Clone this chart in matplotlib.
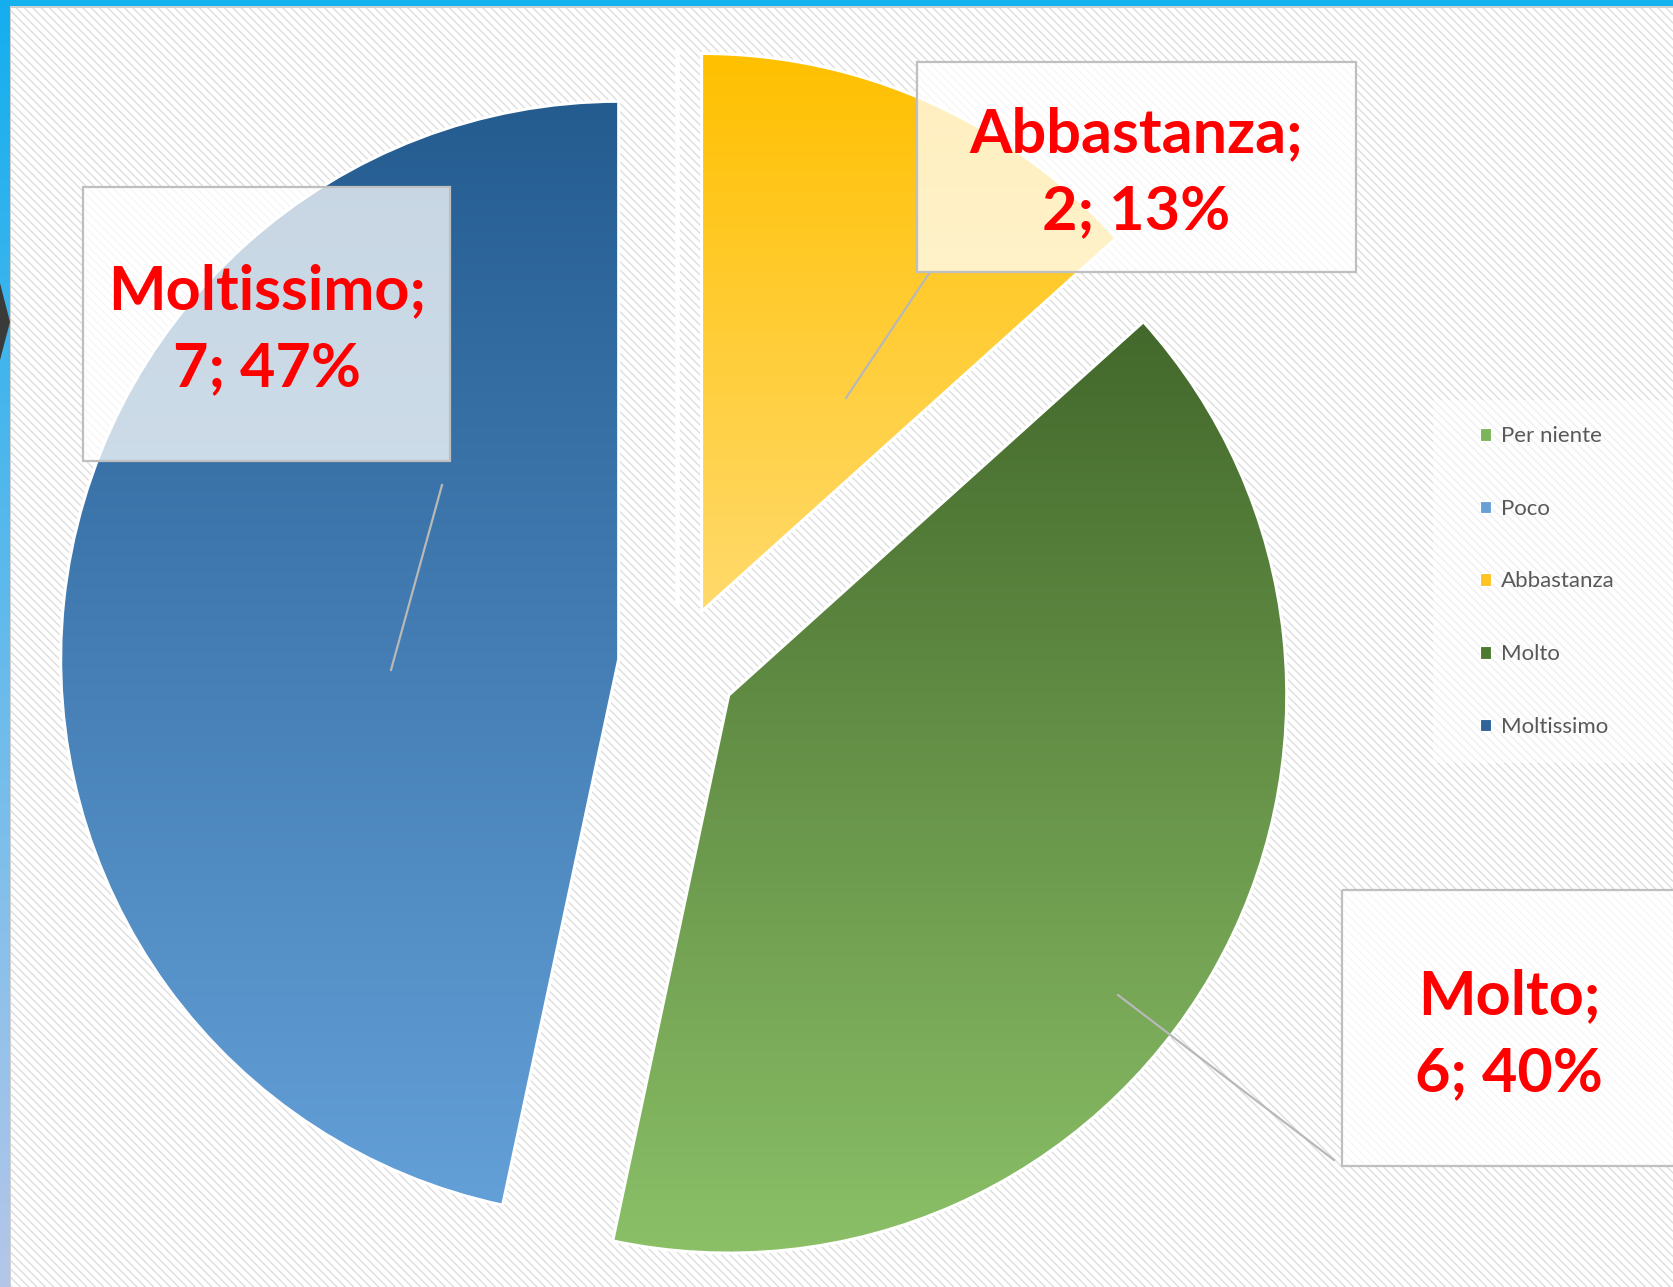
import numpy as np
import matplotlib
matplotlib.use("Agg")
import matplotlib.pyplot as plt
from matplotlib.patches import Rectangle, Polygon, Patch
from matplotlib.transforms import Affine2D
from matplotlib.colors import to_rgb

# ---------------- data ----------------
categories = ["Per niente", "Poco", "Abbastanza", "Molto", "Moltissimo"]
values = [0, 0, 2, 6, 7]
legend_colors = ["#7DB65A", "#6A9FD6", "#FFC423", "#4C7A30", "#2E6499"]
grad_top = ["#70AD47", "#5B9BD5", "#FFC000", "#43682B", "#245C90"]
grad_bottom = ["#8CC168", "#6FA8DC", "#FFDA6C", "#8CC168", "#64A0D8"]
explode_frac = 0.106

W, H = 1673, 1287
plt.rcParams["hatch.linewidth"] = 1.0
plt.rcParams["font.family"] = ["Lato", "DejaVu Sans"]

fig = plt.figure(figsize=(W / 100, H / 100), dpi=100)
fig.patch.set_facecolor("white")

# pixel (top-left origin) -> figure transform
PX = Affine2D().scale(1 / W, -1 / H).translate(0, 1) + fig.transFigure

# background hatch
fig.patches.append(Rectangle((11, 7), W - 11, H - 7, transform=PX, facecolor="white",
                             edgecolor="#DEDEDE", hatch="\\\\\\\\", linewidth=0.0, zorder=0))
# borders
fig.patches.append(Rectangle((0, 0), W, 6, transform=PX, facecolor="#12B2EE", edgecolor="none", zorder=1))
n = 200
for i in range(n):
    t = i / (n - 1)
    c = (1 - t) * np.array(to_rgb("#14AEEE")) + t * np.array(to_rgb("#B4C6E8"))
    fig.patches.append(Rectangle((0, i * H / n), 10, H / n + 1, transform=PX, facecolor=c,
                                 edgecolor="none", zorder=1))
fig.patches.append(Rectangle((10, 6), 1.5, H, transform=PX, facecolor="#D0D0D0", edgecolor="none", zorder=1))
fig.patches.append(Rectangle((10, 6), W, 1.5, transform=PX, facecolor="#D0D0D0", edgecolor="none", zorder=1))
fig.patches.append(Polygon([(0, 283), (10, 322), (0, 360)], closed=True, transform=PX,
                           facecolor="#3A3A3A", edgecolor="none", zorder=2))

# pie axes: radius 1 maps to R px, centre at (cx, cy) px
R = 558.0
cx, cy = 677.5, 665.5
ax = fig.add_axes([0, 0, 1, 1])
ax.set_zorder(3)
ax.patch.set_alpha(0)
wedges, _ = ax.pie(values, explode=[explode_frac] * len(values), startangle=90,
                   counterclock=False, radius=1.0,
                   wedgeprops=dict(edgecolor="white", linewidth=2.2))
xlim = (-cx / R, (W - cx) / R)
ylim = (-(H - cy) / R, cy / R)

for w, ctop, cbot, v in zip(wedges, grad_top, grad_bottom, values):
    w.set_facecolor("none")
    w.set_zorder(3)
    if v == 0:
        w.set_linewidth(3.0)
        continue
    verts = w.get_path().vertices
    x0, x1 = verts[:, 0].min(), verts[:, 0].max()
    y0, y1 = verts[:, 1].min(), verts[:, 1].max()
    t = np.linspace(0, 1, 256)[:, None]
    img = (1 - t) * np.array(to_rgb(ctop)) + t * np.array(to_rgb(cbot))
    im = ax.imshow(img[:, None, :], extent=[x0, x1, y0, y1], origin="upper",
                   aspect="auto", zorder=2, interpolation="bilinear")
    im.set_clip_path(w)

ax.set_xlim(*xlim)
ax.set_ylim(*ylim)
ax.set_aspect("auto")
ax.axis("off")

# data labels
total = sum(values)
label_boxes = {
    "Moltissimo": dict(box=(83, 187, 367, 274), text=(267, 330), leader=((442, 485), (391, 670))),
    "Abbastanza": dict(box=(917, 62, 439, 210), text=(1136, 173), leader=((930, 272), (846, 398))),
    "Molto": dict(box=(1342, 890, 360, 276), text=(1509, 1035), leader=((1118, 995), (1334, 1160))),
}
for cat, v in zip(categories, values):
    if cat not in label_boxes:
        continue
    d = label_boxes[cat]
    (p0, p1) = d["leader"]
    fig.lines.append(plt.Line2D([p0[0], p1[0]], [p0[1], p1[1]], transform=PX,
                                color="#B8B8B8", linewidth=1.6, zorder=5))
    bx, by, bw, bh = d["box"]
    fig.patches.append(Rectangle((bx, by), bw, bh, transform=PX, facecolor="white", alpha=0.75,
                                 edgecolor="none", zorder=6))
    fig.patches.append(Rectangle((bx, by), bw, bh, transform=PX, facecolor="none",
                                 edgecolor="#BFBFBF", linewidth=1.6, zorder=7))
    pct = round(100 * v / total)
    fig.text(d["text"][0], d["text"][1], f"{cat};\n{v}; {pct}%", transform=PX,
             ha="center", va="center", color="#FF0000", fontsize=44, fontweight="bold",
             linespacing=1.45, zorder=8)

# legend
fig.patches.append(Rectangle((1433, 400), 240, 363, transform=PX, facecolor="white", alpha=0.55,
                             edgecolor="none", zorder=4))
handles = [Patch(facecolor=c, edgecolor="white", linewidth=0.8) for c in legend_colors]
leg = fig.legend(handles, categories, loc="upper left",
                 bbox_to_anchor=(1469 / W, 1 - 415 / H), frameon=False, fontsize=16,
                 labelcolor="#595959", handlelength=0.5, handleheight=0.5,
                 handletextpad=0.42, labelspacing=2.37, borderpad=0.0)
leg.set_zorder(9)

fig.savefig("out.png", dpi=100, facecolor="white")
